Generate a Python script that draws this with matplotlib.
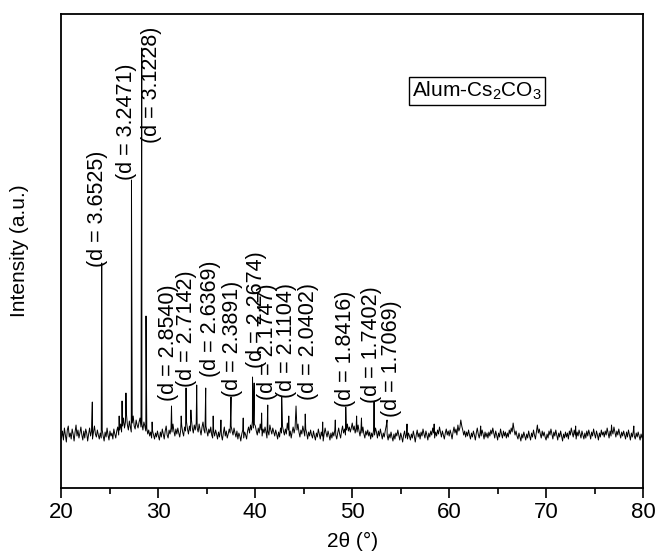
import numpy as np
import pandas as pd
import matplotlib
matplotlib.use("Agg")
import matplotlib.pyplot as plt

plt.rcParams['font.family'] = ['Liberation Sans', 'DejaVu Sans']
plt.rcParams['mathtext.fontset'] = 'custom'
plt.rcParams['mathtext.rm'] = 'Liberation Sans'
plt.rcParams['mathtext.it'] = 'Liberation Sans:italic'

# ---------------- data ----------------
grid_start, grid_step = 20.0, 0.1
background = [
    50, 57, 48, 60, 53, 46, 58, 62, 51, 55, 49, 59, 54, 47, 56, 63, 52, 58, 50, 55,
    61, 53, 48, 57, 50, 59, 55, 47, 54, 60, 52, 57, 49, 56, 62, 54, 51, 58, 53, 49,
    55, 50, 58, 52, 47, 56, 51, 60, 53, 48, 57, 52, 55, 49, 59, 54, 50, 57, 61, 53,
    58, 64, 56, 62, 70, 60, 66, 74, 63, 58, 67, 61, 56, 65, 72, 62, 59, 68, 63, 60,
    66, 70, 61, 64, 58, 66, 62, 57, 60, 54, 58, 52, 56, 50, 57, 53, 49, 55, 51, 57,
    52, 48, 56, 51, 59, 54, 49, 57, 62, 53, 50, 58, 54, 60, 56, 64, 57, 52, 59, 54,
    60, 55, 51, 58, 63, 56, 52, 61, 57, 66, 59, 54, 62, 57, 69, 60, 55, 63, 58, 65,
    60, 56, 64, 58, 53, 61, 66, 58, 55, 62, 57, 52, 59, 55, 61, 53, 50, 57, 52, 58,
    54, 49, 56, 51, 58, 53, 48, 55, 61, 52, 57, 50, 54, 59, 55, 62, 57, 53, 60, 55,
    51, 57, 49, 55, 52, 47, 54, 58, 50, 56, 53, 49, 57, 61, 55, 63, 58, 67, 60, 64,
    62, 57, 53, 60, 55, 64, 58, 52, 59, 55, 61, 56, 50, 57, 53, 63, 58, 54, 60, 56,
    52, 58, 54, 49, 56, 51, 60, 55, 62, 57, 53, 59, 54, 65, 58, 52, 57, 50, 56, 61,
    55, 60, 53, 58, 64, 56, 51, 58, 54, 62, 57, 52, 59, 55, 49, 56, 52, 58, 53, 50,
    57, 52, 48, 55, 51, 59, 54, 49, 56, 52, 47, 54, 60, 55, 51, 57, 53, 48, 55, 50,
    56, 52, 58, 53, 49, 55, 60, 54, 50, 57, 62, 55, 59, 53, 58, 64, 57, 61, 56, 60,
    65, 58, 62, 55, 60, 56, 63, 57, 52, 59, 55, 61, 54, 50, 57, 53, 58, 52, 56, 49,
    55, 51, 58, 53, 60, 56, 50, 57, 52, 59, 54, 49, 55, 51, 57, 62, 53, 48, 54, 50,
    56, 51, 47, 54, 49, 55, 52, 58, 53, 48, 55, 51, 46, 53, 57, 50, 54, 49, 55, 52,
    48, 54, 50, 57, 52, 46, 53, 58, 51, 55, 49, 56, 52, 59, 54, 50, 57, 53, 48, 55,
    51, 57, 53, 60, 55, 50, 56, 52, 58, 54, 61, 56, 51, 57, 53, 49, 55, 59, 53, 57,
    52, 58, 54, 49, 56, 61, 55, 59, 53, 63, 57, 60, 55, 62, 58, 53, 57, 51, 56, 52,
    58, 53, 49, 55, 51, 57, 53, 48, 55, 60, 54, 50, 56, 52, 58, 54, 49, 56, 51, 55,
    50, 56, 52, 58, 54, 60, 55, 50, 57, 53, 48, 55, 51, 59, 54, 50, 57, 52, 56, 50,
    55, 51, 58, 54, 60, 56, 63, 58, 53, 57, 52, 49, 55, 51, 47, 54, 50, 56, 52, 48,
    54, 50, 57, 52, 48, 55, 51, 58, 53, 49, 56, 61, 55, 59, 54, 50, 57, 52, 56, 51,
    48, 54, 50, 57, 53, 59, 54, 49, 56, 52, 58, 53, 48, 55, 51, 57, 52, 47, 54, 50,
    56, 51, 55, 49, 57, 53, 60, 55, 51, 58, 53, 49, 56, 52, 58, 54, 50, 57, 53, 49,
    55, 50, 57, 52, 58, 54, 49, 56, 52, 59, 54, 50, 57, 53, 48, 55, 51, 58, 53, 56,
    51, 57, 53, 60, 55, 50, 57, 52, 58, 54, 61, 56, 51, 57, 53, 59, 54, 50, 56, 52,
    57, 53, 49, 56, 51, 58, 53, 48, 55, 51, 57, 52, 49, 55, 51, 56, 52, 48, 54, 50,
    53,
]

peak_pos = [23.18, 24.15, 25.95, 26.25, 26.65, 27.22, 28.28, 28.72, 29.35, 31.35,
            32.35, 32.85, 33.35, 33.95, 34.88, 35.65, 36.45, 37.49, 38.75, 39.71,
            39.88, 40.65, 41.28, 42.72, 43.45, 44.2, 45.15, 46.95, 48.25, 49.33,
            50.45, 50.95, 52.25, 53.59, 55.65, 58.45, 61.2, 63.25, 66.6, 69.1,
            73.05, 76.75, 79.05]
peak_int = [86, 225, 72, 87, 95, 308, 440, 172, 66, 82,
            72, 100, 78, 103, 100, 72, 68, 91, 70, 111,
            105, 75, 83, 91, 72, 82, 74, 66, 68, 81,
            72, 70, 86, 68, 64, 64, 68, 62, 65, 63,
            62, 63, 62]

label_text = ["(d = 3.6525)", "(d = 3.2471)", "(d = 3.1228)", "(d = 2.8540)",
              "(d = 2.7142)", "(d = 2.6369)", "(d = 2.3891)", "(d = 2.2674)",
              "(d = 2.1747)", "(d = 2.1104)", "(d = 2.0402)", "(d = 1.8416)",
              "(d = 1.7402)", "(d = 1.7069)"]
label_x = [23.72, 26.66, 29.24, 31.09, 32.90, 35.33, 37.60, 40.07,
           41.26, 43.17, 45.44, 49.26, 51.94, 54.01]
label_y = [221, 308, 345, 87, 101, 111, 91, 120, 88, 90, 88, 81, 85, 71]

sample_name = r"Alum-Cs$_2$CO$_3$"

# ---------------- build series ----------------
grid = np.round(grid_start + grid_step * np.arange(len(background)), 3)
series = pd.Series(background, index=grid, dtype=float)
peaks = pd.Series(peak_int, index=np.round(peak_pos, 3), dtype=float)
series = pd.concat([series[~series.index.isin(peaks.index)], peaks]).sort_index()

# ---------------- plot ----------------
fig = plt.figure(figsize=(6.57, 5.53), dpi=100)
ax = fig.add_axes([0.0936, 0.1175, 0.8851, 0.8572])
ax.plot(series.index, series.values, color='black', lw=0.7)

ax.set_xlim(20, 80)
ax.set_ylim(0, 474)
ax.set_xticks(np.arange(20, 81, 10))
ax.set_xticks(np.arange(25, 80, 10), minor=True)
ax.set_yticks([])
ax.tick_params(axis='x', which='major', direction='out', length=7, width=1.2,
               labelsize=16, pad=3, top=False)
ax.tick_params(axis='x', which='minor', direction='out', length=4, width=1.2, top=False)
for s in ax.spines.values():
    s.set_linewidth(1.3)

ax.set_xlabel("2θ (°)", fontsize=15, va='center')
ax.xaxis.set_label_coords(0.5, -0.112)
ax.set_ylabel("Intensity (a.u.)", fontsize=15, va='center')
ax.yaxis.set_label_coords(-0.0714, 0.5)

for t, x, y in zip(label_text, label_x, label_y):
    ax.text(x, y, t, rotation=90, ha='center', va='bottom', fontsize=15.5)

ax.text(0.714, 0.8376, sample_name, transform=ax.transAxes, ha='center', va='center',
        fontsize=15, bbox=dict(boxstyle='square,pad=0.15', fc='white', ec='black', lw=1.0))

fig.savefig("out.png", dpi=100)
